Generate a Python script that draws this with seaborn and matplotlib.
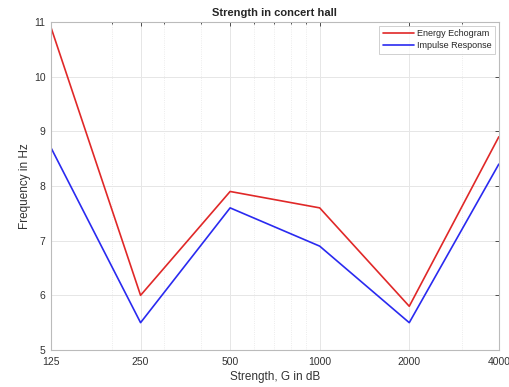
import matplotlib
matplotlib.use("Agg")
import matplotlib.pyplot as plt
import matplotlib.ticker as mticker
import seaborn as sns
import pandas as pd

freqs = [125, 250, 500, 1000, 2000, 4000]
energy_echogram = [10.9, 6.0, 7.9, 7.6, 5.8, 8.9]
impulse_response = [8.7, 5.5, 7.6, 6.9, 5.5, 8.4]
series_names = ["Energy Echogram", "Impulse Response"]
tick_labels = ["125", "250", "500", "1000", "2000", "4000"]

df = pd.DataFrame({
    "x": freqs * 2,
    "y": energy_echogram + impulse_response,
    "series": [series_names[0]] * len(freqs) + [series_names[1]] * len(freqs),
})

sns.set_style("white")
plt.rcParams['font.family'] = ['Liberation Sans', 'DejaVu Sans']

fig = plt.figure(figsize=(5.09, 3.87), dpi=100)
ax = fig.add_axes([0.1002, 0.0956, 0.8798, 0.8475])

sns.lineplot(data=df, x="x", y="y", hue="series",
             palette={series_names[0]: "#e02828", series_names[1]: "#2a2af0"},
             linewidth=1.2, ax=ax, legend=True)

ax.set_xscale("log")
ax.set_xlim(125, 4000)
ax.set_ylim(5, 11)
ax.xaxis.set_major_locator(mticker.FixedLocator(freqs))
ax.xaxis.set_major_formatter(mticker.FixedFormatter(tick_labels))
ax.xaxis.set_minor_locator(mticker.LogLocator(base=10, subs=range(2, 10)))
ax.xaxis.set_minor_formatter(mticker.NullFormatter())
ax.set_yticks([5, 6, 7, 8, 9, 10, 11])

ax.grid(True, which="major", color="#e6e6e6", linewidth=0.7)
ax.grid(True, which="minor", axis="x", color="#e6e6e6", linewidth=0.6, linestyle=":")
ax.tick_params(which="both", direction="in", top=True, right=True, labelsize=7.5,
               colors="#333333", length=3, width=0.6)
ax.tick_params(axis="x", which="major", pad=5)
ax.tick_params(axis="y", which="major", pad=4)
ax.tick_params(which="minor", length=1.5)
for sp in ax.spines.values():
    sp.set_color("#bbbbbb")
    sp.set_linewidth(0.8)

ax.set_title("Strength in concert hall", fontsize=8, fontweight="bold", pad=4)
ax.set_xlabel("Strength, G in dB", fontsize=8.5, color="#333333", labelpad=3)
ax.set_ylabel("Frequency in Hz", fontsize=8.5, color="#333333", labelpad=2)

leg = ax.legend(loc="upper right", fontsize=6.5, frameon=True, fancybox=False,
                edgecolor="#bbbbbb", handlelength=3.5, borderpad=0.4,
                labelspacing=0.3, borderaxespad=0.4, handletextpad=0.3)
leg.get_frame().set_linewidth(0.6)

fig.savefig("out.png", dpi=100)
